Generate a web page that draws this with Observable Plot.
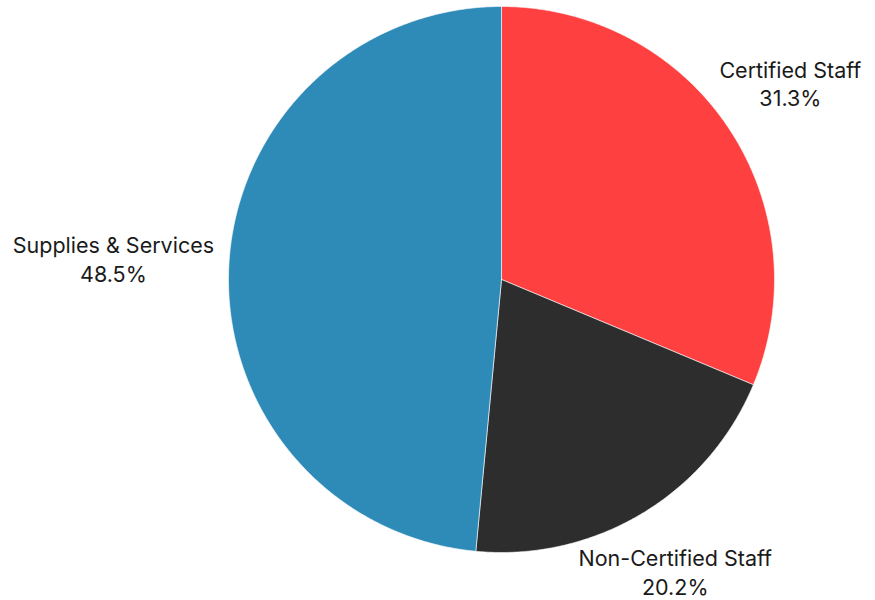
<!DOCTYPE html>
<html>
<head>
<meta charset="utf-8">
<script src="https://cdn.jsdelivr.net/npm/d3@7"></script>
<script src="https://cdn.jsdelivr.net/npm/@observablehq/plot@0.6"></script>
<style>
  html, body { margin: 0; padding: 0; background: #fff; }
  #chart svg { display: block; }
</style>
</head>
<body>
<div id="chart"></div>
<script>
const categories = ["Certified Staff", "Non-Certified Staff", "Supplies & Services"];
const shares = [31.3, 20.2, 48.5];
const colors = ["#FF4040", "#2D2D2D", "#2E8BB8"];

const W = 875, H = 600;
const cx = 501, cy = 279, R = 273;
const FONT = "Inter, 'Noto Sans', sans-serif";
const FS = 21.5;

const total = d3.sum(shares);
let acc = 0;
const slices = categories.map((name, i) => {
  const a0 = acc / total * 2 * Math.PI;
  acc += shares[i];
  const a1 = acc / total * 2 * Math.PI;
  return {name, value: shares[i], a0, a1};
});

// polygon points for each slice (angle 0 at top, clockwise)
const pts = [];
for (const s of slices) {
  pts.push({name: s.name, x: 0, y: 0});
  const n = Math.max(2, Math.ceil((s.a1 - s.a0) / (Math.PI / 360)));
  for (let k = 0; k <= n; k++) {
    const a = s.a0 + (s.a1 - s.a0) * k / n;
    pts.push({name: s.name, x: Math.sin(a), y: Math.cos(a)});
  }
  pts.push({name: s.name, x: 0, y: 0});
}

// label positions (outside, computed from slice mid-angle and text size)
const ctx = document.createElement("canvas").getContext("2d");
ctx.font = `${FS}px Inter`;
const lineH = 29;
const gap = 15;
const labels = slices.map(s => {
  const m = (s.a0 + s.a1) / 2;
  const sx = Math.sin(m), sy = Math.cos(m);
  const text = `${s.name}\n${s.value.toFixed(1)}%`;
  const w = Math.max(ctx.measureText(s.name).width, ctx.measureText(s.value.toFixed(1) + "%").width);
  const h = lineH * 2;
  const px = sx * (R + gap) + sx * Math.abs(sx) * w / 2;
  const py = sy * (R + gap) + sy * h;
  return {text, x: px / R, y: py / R};
});

const chart = Plot.plot({
  width: W,
  height: H,
  margin: 0,
  style: {fontFamily: FONT, background: "#fff"},
  x: {domain: [-1, 1], range: [cx - R, cx + R], axis: null},
  y: {domain: [-1, 1], range: [cy + R, cy - R], axis: null},
  color: {domain: categories, range: colors},
  marks: [
    Plot.line(pts, {x: "x", y: "y", z: "name", fill: "name", stroke: "white", strokeWidth: 0.6, curve: "linear-closed"}),
    Plot.text(labels, {x: "x", y: "y", dy: -5, text: "text", fontSize: FS, lineHeight: lineH / FS, fill: "#1a1a1a", textAnchor: "middle", lineAnchor: "middle", fontFamily: FONT})
  ]
});
document.getElementById("chart").appendChild(chart);
</script>
</body>
</html>
